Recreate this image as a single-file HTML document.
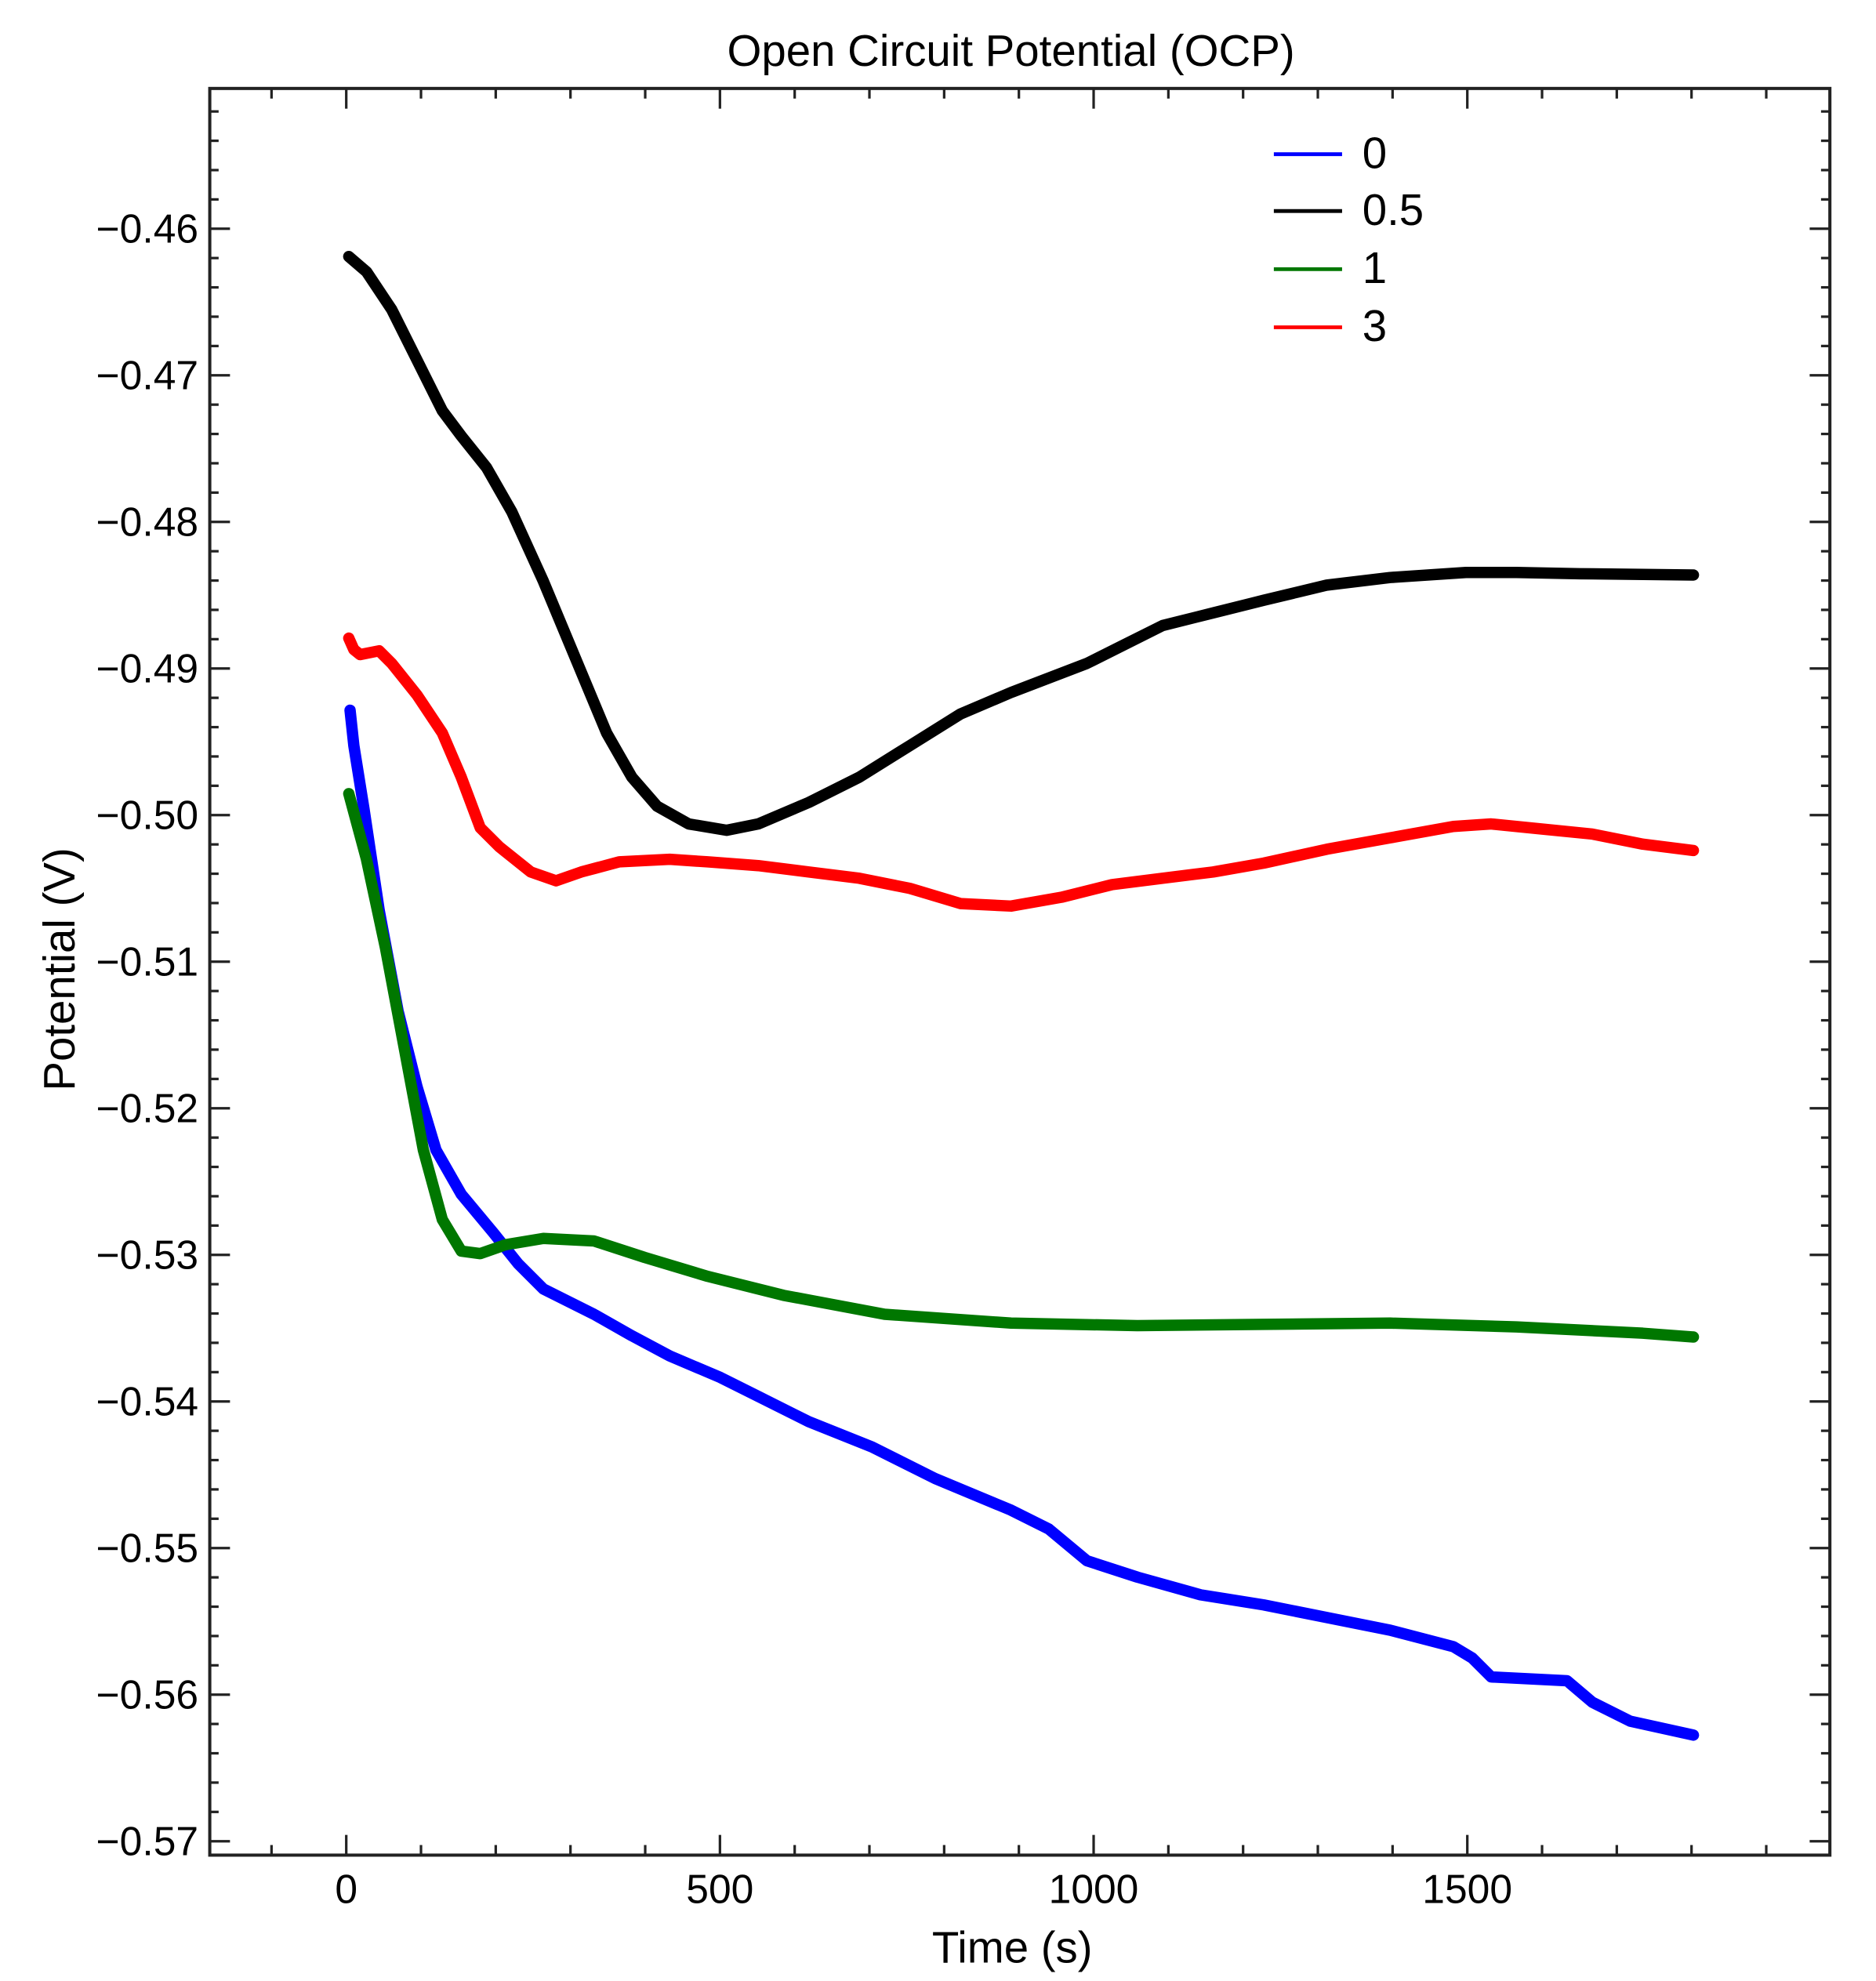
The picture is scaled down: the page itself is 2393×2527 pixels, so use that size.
<!DOCTYPE html>
<html><head><meta charset="utf-8"><style>html,body{margin:0;padding:0;background:#fff}svg{display:block}</style></head><body>
<svg width="2393" height="2527" viewBox="0 0 1484.5 1567.6" preserveAspectRatio="none" xmlns="http://www.w3.org/2000/svg" font-family="Liberation Sans, Arial, sans-serif">
<rect width="1484.5" height="1567.6" fill="#fff"/>
<text x="800" y="52" font-size="35" text-anchor="middle">Open Circuit Potential (OCP)</text>
<g stroke="#222" stroke-width="2" fill="none">
<rect x="166" y="70" width="1282" height="1398" stroke-width="2.5"/>
</g>
<g id="t" stroke="#222" stroke-width="2"></g>
<g font-size="32" text-anchor="end" id="yl"></g>
<g font-size="32" text-anchor="middle" id="xl"></g>
<text x="801" y="1553" font-size="35" text-anchor="middle">Time (s)</text>
<text transform="translate(59,767) rotate(-90)" font-size="35" text-anchor="middle">Potential (V)</text>
<g fill="none" stroke-width="9" stroke-linejoin="round" stroke-linecap="round">
<path stroke="#000" d="M276,203 L290,215 L310,245 L330,285 L350,325 L365,345 L385,370 L405,405 L430,460 L455,520 L480,580 L500,615 L520,638 L545,652 L575,657 L600,652 L640,635 L680,615 L720,590 L760,565 L800,548 L860,525 L890,510 L920,495 L960,485 L1000,475 L1050,463 L1100,457 L1160,453 L1200,453 L1250,454 L1340,455"/>
<path stroke="#f00" d="M276,505 L280,514 L285,518 L300,515 L310,525 L330,550 L350,580 L365,615 L380,655 L395,670 L420,690 L440,697 L460,690 L490,682 L530,680 L560,682 L600,685 L640,690 L680,695 L720,703 L760,715 L800,717 L840,710 L880,700 L920,695 L960,690 L1000,683 L1050,672 L1100,663 L1150,654 L1180,652 L1220,656 L1260,660 L1300,668 L1340,673"/>
<path stroke="#00f" d="M277,562 L280,590 L288,640 L300,720 L315,800 L330,860 L345,910 L365,945 L390,975 L410,1000 L430,1020 L470,1040 L500,1057 L530,1073 L570,1090 L600,1105 L640,1125 L690,1145 L740,1170 L800,1195 L830,1210 L860,1235 L900,1248 L950,1262 L1000,1270 L1050,1280 L1100,1290 L1150,1303 L1165,1312 L1180,1327 L1240,1330 L1260,1347 L1290,1362 L1340,1373"/>
<path stroke="#070" d="M276,628 L290,680 L305,750 L320,830 L335,910 L350,965 L365,990 L380,992 L400,985 L430,980 L470,982 L510,995 L560,1010 L620,1025 L700,1040 L800,1047 L900,1049 L1000,1048 L1100,1047 L1200,1050 L1300,1055 L1340,1058"/>
</g>
<g stroke-width="3">
<line x1="1008" y1="122" x2="1062" y2="122" stroke="#00f"/>
<line x1="1008" y1="167" x2="1062" y2="167" stroke="#000"/>
<line x1="1008" y1="213" x2="1062" y2="213" stroke="#070"/>
<line x1="1008" y1="259" x2="1062" y2="259" stroke="#f00"/>
</g>
<g font-size="35">
<text x="1078" y="133">0</text><text x="1078" y="178">0.5</text><text x="1078" y="224">1</text><text x="1078" y="270">3</text>
</g>
<script>
var ns="http://www.w3.org/2000/svg",t=document.getElementById("t"),yl=document.getElementById("yl"),xl=document.getElementById("xl");
function L(a,b,c,d){var l=document.createElementNS(ns,"line");l.setAttribute("x1",a);l.setAttribute("y1",b);l.setAttribute("x2",c);l.setAttribute("y2",d);t.appendChild(l);}
function T(g,x,y,s){var e=document.createElementNS(ns,"text");e.setAttribute("x",x);e.setAttribute("y",y);e.textContent=s;g.appendChild(e);}
for(var v=-100;v<=1900;v+=100){var x=274+0.5914*v;if(x<166||x>1448)continue;var maj=(v%500==0);var len=maj?16:8;L(x,1468,x,1468-len);L(x,70,x,70+len);if(maj)T(xl,x,1506,String(v));}
for(var i=-6;i<=58;i++){var y=181+i*23.2;if(y<70||y>1468)continue;var maj=(i%5==0);var len=maj?16:7;L(166,y,166+len,y);L(1448,y,1448-len,y);if(maj){var val=(0.46+i/500).toFixed(2);T(yl,157,y+11,"\u2212"+val);}}
</script>
</svg>
</body></html>
